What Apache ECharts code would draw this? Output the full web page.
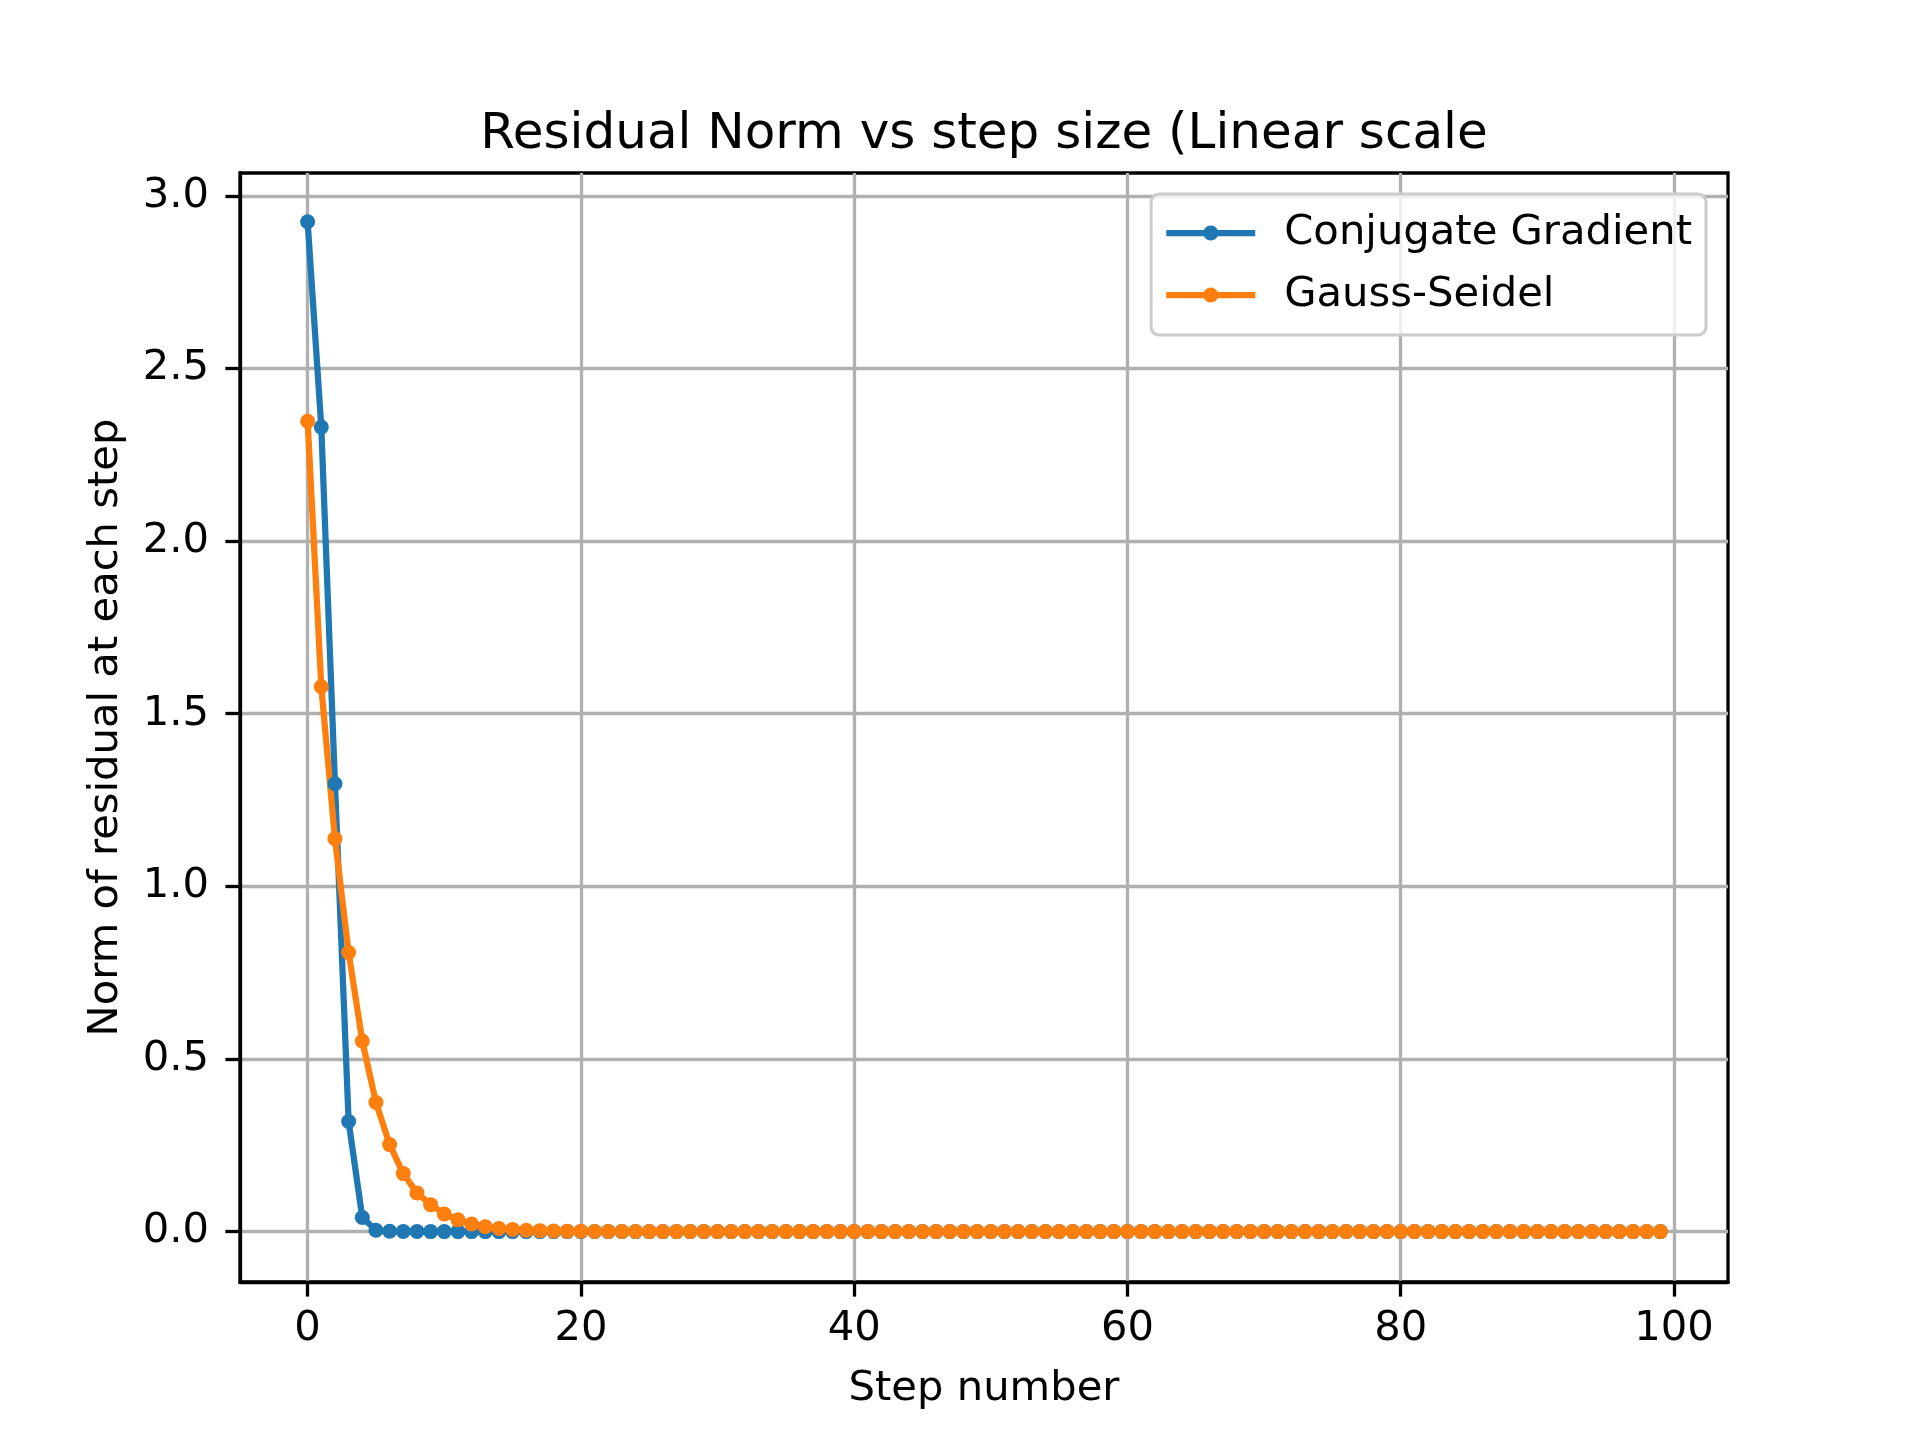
<!DOCTYPE html>
<html>
<head>
<meta charset="utf-8">
<title>Residual Norm vs step size</title>
<script src="https://cdn.jsdelivr.net/npm/echarts@6/dist/echarts.min.js"></script>
<style>
  html, body { margin: 0; padding: 0; background: #fff; }
  #chart { width: 1920px; height: 1440px; }
</style>
</head>
<body>
<div id="chart"></div>
<script>
var steps = [
  0, 1, 2, 3, 4, 5, 6, 7, 8, 9,
  10, 11, 12, 13, 14, 15, 16, 17, 18, 19,
  20, 21, 22, 23, 24, 25, 26, 27, 28, 29,
  30, 31, 32, 33, 34, 35, 36, 37, 38, 39,
  40, 41, 42, 43, 44, 45, 46, 47, 48, 49,
  50, 51, 52, 53, 54, 55, 56, 57, 58, 59,
  60, 61, 62, 63, 64, 65, 66, 67, 68, 69,
  70, 71, 72, 73, 74, 75, 76, 77, 78, 79,
  80, 81, 82, 83, 84, 85, 86, 87, 88, 89,
  90, 91, 92, 93, 94, 95, 96, 97, 98, 99
];
var cgResidual = [
  2.925, 2.33, 1.297, 0.319, 0.041, 0.004, 0.0008, 0.0002, 0.0001, 0,
  0, 0, 0, 0, 0, 0, 0, 0, 0, 0,
  0, 0, 0, 0, 0, 0, 0, 0, 0, 0,
  0, 0, 0, 0, 0, 0, 0, 0, 0, 0,
  0, 0, 0, 0, 0, 0, 0, 0, 0, 0,
  0, 0, 0, 0, 0, 0, 0, 0, 0, 0,
  0, 0, 0, 0, 0, 0, 0, 0, 0, 0,
  0, 0, 0, 0, 0, 0, 0, 0, 0, 0,
  0, 0, 0, 0, 0, 0, 0, 0, 0, 0,
  0, 0, 0, 0, 0, 0, 0, 0, 0, 0
];
var gsResidual = [
  2.347, 1.578, 1.138, 0.808, 0.552, 0.374, 0.252, 0.168, 0.112, 0.078,
  0.051, 0.034, 0.022, 0.014, 0.009, 0.006, 0.004, 0.0027, 0.0018, 0.0012,
  0.0008, 0.0005, 0.0003, 0.0002, 0.0001, 0, 0, 0, 0, 0,
  0, 0, 0, 0, 0, 0, 0, 0, 0, 0,
  0, 0, 0, 0, 0, 0, 0, 0, 0, 0,
  0, 0, 0, 0, 0, 0, 0, 0, 0, 0,
  0, 0, 0, 0, 0, 0, 0, 0, 0, 0,
  0, 0, 0, 0, 0, 0, 0, 0, 0, 0,
  0, 0, 0, 0, 0, 0, 0, 0, 0, 0,
  0, 0, 0, 0, 0, 0, 0, 0, 0, 0
];
var xTicks = [0, 20, 40, 60, 80, 100];
var yTicks = [0, 0.5, 1.0, 1.5, 2.0, 2.5, 3.0];

var font = 'DejaVu Sans';

function pairs(ys) {
  var out = [];
  for (var i = 0; i < steps.length; i++) {
    out.push([steps[i], ys[i]]);
  }
  return out;
}

var myChart = echarts.init(document.getElementById('chart'), null, { renderer: 'canvas' });

var option = {
  animation: false,
  backgroundColor: '#ffffff',
  title: {
    text: 'Residual Norm vs step size (Linear scale',
    left: 979,
    top: 105,
    textAlign: 'center',
    textStyle: { fontFamily: font, fontSize: 50, fontWeight: 'normal', color: '#000' }
  },
  legend: {
    orient: 'vertical',
    right: 214,
    top: 194,
    padding: [18, 14, 19, 12],
    itemWidth: 89,
    itemHeight: 19,
    itemGap: 20,
    backgroundColor: 'rgba(255,255,255,0.8)',
    borderColor: '#cccccc',
    borderWidth: 3,
    borderRadius: 8,
    lineStyle: { width: 6.25 },
    textStyle: { fontFamily: font, fontSize: 41.7, color: '#000', padding: [0, 0, 0, 24] },
    data: ['Conjugate Gradient', 'Gauss-Seidel']
  },
  grid: {
    left: 240,
    right: 192,
    top: 173,
    bottom: 158,
    show: true,
    borderColor: '#000',
    borderWidth: 3.3,
    containLabel: false
  },
  xAxis: {
    type: 'value',
    min: -4.95,
    max: 103.95,
    name: 'Step number',
    nameLocation: 'middle',
    nameGap: 86,
    nameTextStyle: { fontFamily: font, fontSize: 41.7, color: '#000' },
    axisLine: { onZero: false, lineStyle: { color: '#000', width: 3.3 } },
    axisTick: { show: true, inside: false, length: 14.6, customValues: xTicks, lineStyle: { color: '#000', width: 3.3 } },
    axisLabel: { customValues: xTicks, margin: 26, fontFamily: font, fontSize: 41.7, color: '#000' },
    splitLine: { show: true, lineStyle: { color: '#b0b0b0', width: 3.3 } }
  },
  yAxis: {
    type: 'value',
    min: -0.146,
    max: 3.066,
    name: 'Norm of residual at each step',
    nameLocation: 'middle',
    nameGap: 113,
    nameTextStyle: { fontFamily: font, fontSize: 41.7, color: '#000' },
    axisLine: { onZero: false, lineStyle: { color: '#000', width: 3.3 } },
    axisTick: { show: true, inside: false, length: 14.6, customValues: yTicks, lineStyle: { color: '#000', width: 3.3 } },
    axisLabel: {
      customValues: yTicks,
      margin: 31,
      fontFamily: font,
      fontSize: 41.7,
      color: '#000',
      formatter: function (v) { return Number(v).toFixed(1); }
    },
    splitLine: { show: true, lineStyle: { color: '#b0b0b0', width: 3.3 } }
  },
  series: [
    {
      name: 'Conjugate Gradient',
      type: 'line',
      data: pairs(cgResidual),
      symbol: 'circle',
      symbolSize: 15,
      showAllSymbol: true,
      color: '#1f77b4',
      lineStyle: { width: 6.25, color: '#1f77b4' },
      itemStyle: { color: '#1f77b4' }
    },
    {
      name: 'Gauss-Seidel',
      type: 'line',
      data: pairs(gsResidual),
      symbol: 'circle',
      symbolSize: 15,
      showAllSymbol: true,
      color: '#ff7f0e',
      lineStyle: { width: 6.25, color: '#ff7f0e' },
      itemStyle: { color: '#ff7f0e' }
    }
  ]
};

myChart.setOption(option);
window.onresize = myChart.resize;
</script>
</body>
</html>
